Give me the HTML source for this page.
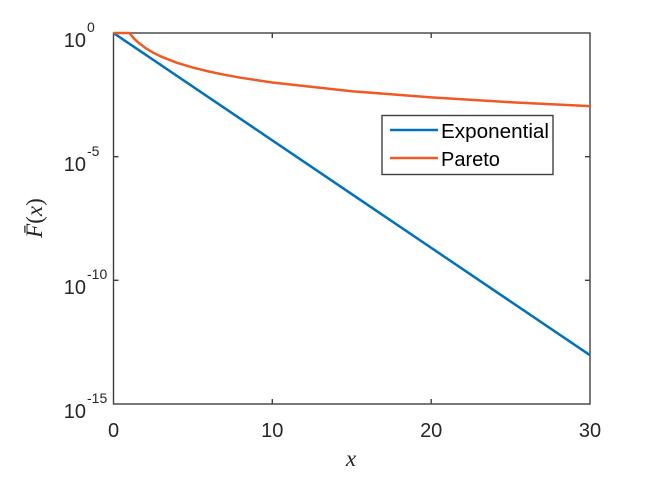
<!DOCTYPE html>
<html><head><meta charset="utf-8"><style>
body{margin:0;background:#fff;}
svg{display:block;font-family:"Liberation Sans",sans-serif;}
</style></head><body>
<svg width="659" height="479" viewBox="0 0 659 479">
<rect width="659" height="479" fill="#fff"/>
<g stroke="#404040" stroke-width="1.4" fill="none">
<rect x="113.5" y="33" width="476.5" height="371"/>
<line x1="113.5" y1="156.7" x2="118.5" y2="156.7"/>
<line x1="113.5" y1="280.3" x2="118.5" y2="280.3"/>
<line x1="590" y1="156.7" x2="585" y2="156.7"/>
<line x1="590" y1="280.3" x2="585" y2="280.3"/>
<line x1="272.3" y1="404" x2="272.3" y2="399"/>
<line x1="431.2" y1="404" x2="431.2" y2="399"/>
<line x1="272.3" y1="33" x2="272.3" y2="38"/>
<line x1="431.2" y1="33" x2="431.2" y2="38"/>
</g>
<polyline fill="none" stroke="#0072BD" stroke-width="2.5" points="113.5,33 590,355.2"/>
<polyline fill="none" stroke="#F05A22" stroke-width="2.5" points="113.5,33 129.4,33 133.3,37.8 137.3,41.7 145.3,47.9 153.2,52.7 161.1,56.6 177,62.8 192.9,67.6 208.8,71.5 224.7,74.8 240.5,77.7 272.3,82.5 351.7,91.2 431.2,97.4 510.6,102.2 590,106.1"/>
<g fill="#262626" font-size="20">
<text x="113.5" y="437" text-anchor="middle">0</text>
<text x="272.3" y="437" text-anchor="middle">10</text>
<text x="431.2" y="437" text-anchor="middle">20</text>
<text x="590" y="437" text-anchor="middle">30</text>
<text x="86" y="47" text-anchor="end">10</text><text x="87" y="32" font-size="14">0</text>
<text x="86" y="171" text-anchor="end">10</text><text x="87" y="156" font-size="14">-5</text>
<text x="86" y="294" text-anchor="end">10</text><text x="87" y="279" font-size="14">-10</text>
<text x="86" y="418" text-anchor="end">10</text><text x="87" y="403" font-size="14">-15</text>
</g>
<text x="351" y="466" text-anchor="middle" font-family="'Liberation Serif',serif" font-style="italic" font-size="23" fill="#262626">x</text>
<text transform="translate(42,218) rotate(-90)" text-anchor="middle" font-family="'Liberation Serif',serif" font-size="23" fill="#262626"><tspan font-style="italic">F̄</tspan>(<tspan font-style="italic">x</tspan>)</text>
<rect x="382" y="115.5" width="171" height="59" fill="#fff" stroke="#404040" stroke-width="1.4"/>
<line x1="390" y1="130" x2="438" y2="130" stroke="#0072BD" stroke-width="2.5"/>
<line x1="390" y1="158" x2="438" y2="158" stroke="#F05A22" stroke-width="2.5"/>
<text x="441" y="138" font-size="20" fill="#000" textLength="108" lengthAdjust="spacingAndGlyphs">Exponential</text>
<text x="441" y="166" font-size="20" fill="#000">Pareto</text>
</svg>
</body></html>
